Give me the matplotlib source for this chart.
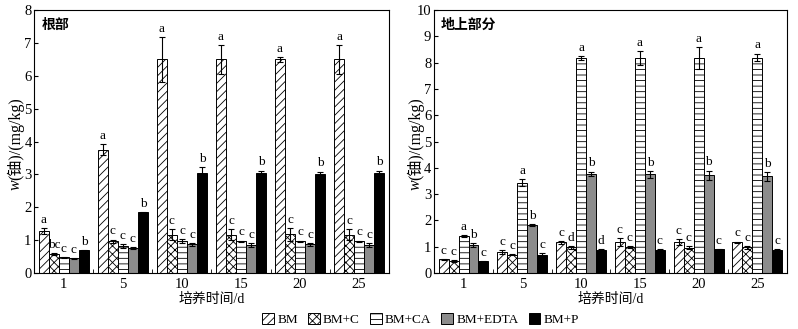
import numpy as np
import matplotlib.pyplot as plt

plt.rcParams['font.family'] = ['Liberation Serif', 'Noto Sans CJK SC']
plt.rcParams['hatch.linewidth'] = 0.6

# Datos
dias = ['1', '5', '10', '15', '20', '25']
tratamientos = ['BM', 'BM+C', 'BM+CA', 'BM+EDTA', 'BM+P']

raiz_media = [
    [1.28, 3.75, 6.5, 6.5, 6.5, 6.5],
    [0.57, 0.97, 1.17, 1.17, 1.18, 1.17],
    [0.48, 0.82, 0.98, 0.97, 0.97, 0.97],
    [0.45, 0.76, 0.87, 0.85, 0.87, 0.85],
    [0.69, 1.85, 3.05, 3.05, 3.02, 3.05],
]
raiz_err = [
    [0.08, 0.17, 0.68, 0.43, 0.08, 0.43],
    [0.03, 0.05, 0.17, 0.17, 0.20, 0.17],
    [0.02, 0.07, 0.06, 0.02, 0.02, 0.02],
    [0.02, 0.03, 0.05, 0.05, 0.04, 0.05],
    [0.02, 0.02, 0.17, 0.07, 0.07, 0.07],
]
raiz_letras = [
    ['a', 'a', 'a', 'a', 'a', 'a'],
    ['bc', 'c', 'c', 'c', 'c', 'c'],
    ['c', 'c', 'c', 'c', 'c', 'c'],
    ['c', 'c', 'c', 'c', 'c', 'c'],
    ['b', 'b', 'b', 'b', 'b', 'b'],
]

aerea_media = [
    [0.52, 0.80, 1.17, 1.18, 1.18, 1.18],
    [0.47, 0.70, 0.98, 1.00, 0.97, 0.98],
    [1.40, 3.43, 8.18, 8.18, 8.18, 8.20],
    [1.07, 1.82, 3.78, 3.75, 3.72, 3.68],
    [0.45, 0.70, 0.88, 0.88, 0.90, 0.87],
]
aerea_err = [
    [0.03, 0.08, 0.06, 0.15, 0.10, 0.02],
    [0.03, 0.03, 0.05, 0.04, 0.07, 0.06],
    [0.04, 0.13, 0.07, 0.25, 0.42, 0.15],
    [0.07, 0.03, 0.08, 0.13, 0.18, 0.17],
    [0.02, 0.05, 0.05, 0.03, 0.03, 0.05],
]
aerea_letras = [
    ['c', 'c', 'c', 'c', 'c', 'c'],
    ['c', 'c', 'd', 'c', 'c', 'c'],
    ['a', 'a', 'a', 'a', 'a', 'a'],
    ['b', 'b', 'b', 'b', 'b', 'b'],
    ['c', 'c', 'd', 'c', 'c', 'c'],
]

# Estilos de relleno
colores = ['white', 'white', 'white', '#8c8c8c', 'black']
tramas = ['////', 'xxxx', '---', None, None]


def panel(ax, medias, errores, letras, ymax, titulo):
    x = np.arange(len(dias))
    ancho = 0.17
    barras = []
    for i in range(len(tratamientos)):
        pos = x + (i - 2) * ancho
        b = ax.bar(pos, medias[i], ancho, color=colores[i], edgecolor='black',
                   hatch=tramas[i], linewidth=0.7, label=tratamientos[i])
        ax.errorbar(pos, medias[i], yerr=errores[i], fmt='none', ecolor='black',
                    elinewidth=0.8, capsize=2.5, capthick=0.8)
        for j in range(len(dias)):
            ax.text(pos[j], medias[i][j] + errores[i][j] + ymax * 0.008, letras[i][j],
                    ha='center', va='bottom', fontsize=9.5)
        barras.append(b)
    ax.set_xlim(-0.5, len(dias) - 0.5)
    ax.set_ylim(0, ymax)
    ax.set_xticks(x)
    ax.set_xticklabels(dias, fontsize=10.5)
    ax.set_xticks(np.arange(0.5, len(dias) - 0.5, 1), minor=True)
    ax.tick_params(axis='x', which='major', length=0)
    ax.tick_params(axis='x', which='minor', direction='in', length=3)
    ax.set_yticks(np.arange(0, ymax + 1, 1))
    ax.tick_params(axis='y', direction='in', length=3, labelsize=10.5, pad=2)
    ax.set_xlabel('培养时间/d', fontsize=10, labelpad=1)
    # etiqueta del eje y: "w" en cursiva seguida del resto del texto
    t_w = ax.text(-0.052, 0.315, 'w', style='italic', rotation=90, fontsize=11.5,
                  transform=ax.transAxes, ha='center', va='bottom')
    ax.annotate('(铀)/(mg/kg)', xy=(0.5, 1.0), xycoords=t_w, rotation=90,
                fontsize=11.5, ha='center', va='bottom')
    ax.text(0.02, 0.97, titulo, transform=ax.transAxes, ha='left', va='top',
            fontsize=10, fontweight='bold', family='Noto Sans CJK SC')
    for s in ax.spines.values():
        s.set_linewidth(0.8)
    return barras


fig = plt.figure(figsize=(7.98, 3.29), dpi=100)
ax1 = fig.add_axes([0.043, 0.17, 0.444, 0.799])
ax2 = fig.add_axes([0.544, 0.17, 0.442, 0.799])

barras = panel(ax1, raiz_media, raiz_err, raiz_letras, 8, '根部')
panel(ax2, aerea_media, aerea_err, aerea_letras, 10, '地上部分')

fig.legend(barras, tratamientos, loc='center', bbox_to_anchor=(0.527, 0.03),
           ncol=5, frameon=False, fontsize=9.5, handlelength=0.9, handleheight=0.9,
           handletextpad=0.25, columnspacing=0.75)

fig.savefig('out.png', dpi=100)
